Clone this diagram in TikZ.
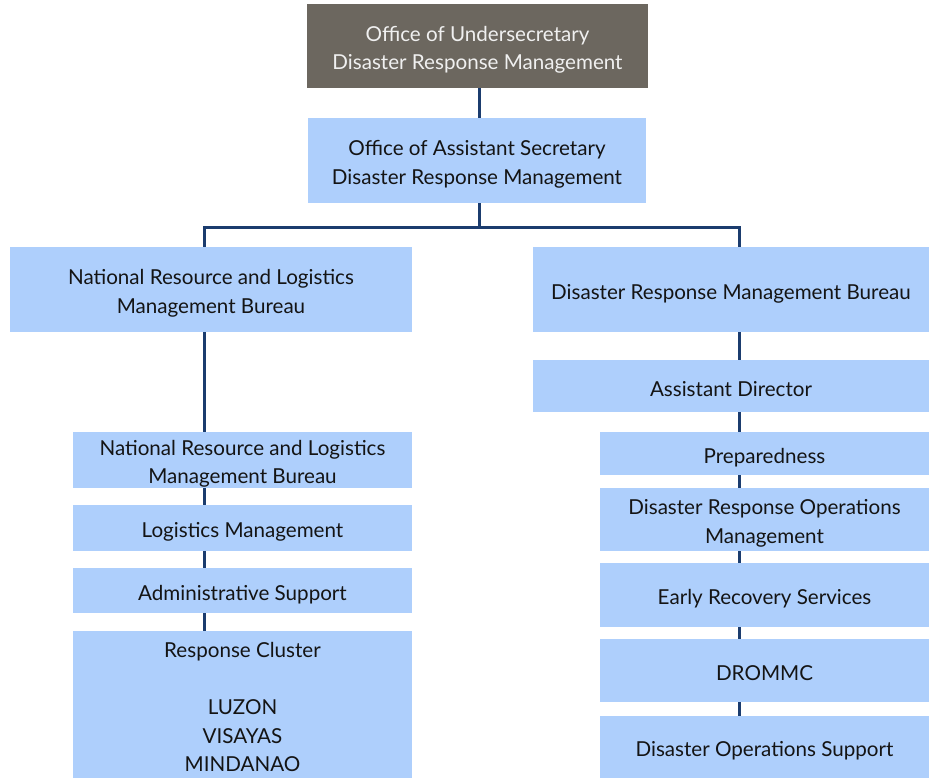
\documentclass[tikz,border=0pt]{standalone}
\usepackage{fontspec}
\setmainfont{Lato}
\usetikzlibrary{backgrounds}
\definecolor{boxblue}{HTML}{AECFFC}
\definecolor{headgray}{HTML}{6C675F}
\definecolor{linknavy}{HTML}{1B3C6E}
\definecolor{inktext}{HTML}{141414}
% fixed struts so every label sits at the same height in its box
\newcommand\hiStrut{\rule{0pt}{23pt}}
\newcommand\loStrut{\rule[-3pt]{0pt}{3pt}}
\begin{document}
\begin{tikzpicture}[x=1pt,y=-1pt,
  unit/.style={rectangle, fill=boxblue, inner sep=0pt, align=center,
    text=inktext, font=\fontsize{20.6}{28.5}\selectfont},
  headunit/.style={unit, fill=headgray, text=white!94!black},
  conn/.style={draw=linknavy, line width=3pt}]
\useasboundingbox (0,0) rectangle (929,778);

% top of the hierarchy
\node[headunit, minimum width=341pt, minimum height=84pt] (usec) at (477.5,46)
  {\hiStrut Office of Undersecretary\\Disaster Response Management\loStrut};
\node[unit, minimum width=338pt, minimum height=85pt] (asec) at (477,160.5)
  {\hiStrut Office of Assistant Secretary\\Disaster Response Management\loStrut};

% the two bureaus
\node[unit, minimum width=402pt, minimum height=85pt] (nrlmb) at (211,289.5)
  {\hiStrut National Resource and Logistics\\Management Bureau\loStrut};
\node[unit, minimum width=396pt, minimum height=85pt] (drmb) at (731,289.5)
  {\hiStrut Disaster Response Management Bureau\loStrut};
\node[unit, minimum width=396pt, minimum height=52pt] (adir) at (731,386)
  {\hiStrut Assistant Director\loStrut};

% left column
\node[unit, minimum width=339pt, minimum height=56pt] (l1) at (242.5,460)
  {\hiStrut National Resource and Logistics\\Management Bureau\loStrut};
\node[unit, minimum width=339pt, minimum height=46pt] (l2) at (242.5,528)
  {\hiStrut Logistics Management\loStrut};
\node[unit, minimum width=339pt, minimum height=45pt] (l3) at (242.5,590.5)
  {\hiStrut Administrative Support\loStrut};
\node[unit, minimum width=339pt, minimum height=147pt] (l4) at (242.5,704.5)
  {\hiStrut Response Cluster\\[28.5pt]LUZON\\VISAYAS\\MINDANAO\loStrut};

% right column
\node[unit, minimum width=329pt, minimum height=43pt] (r1) at (764.5,453.5)
  {\hiStrut Preparedness\loStrut};
\node[unit, minimum width=329pt, minimum height=63pt] (r2) at (764.5,519.5)
  {\hiStrut Disaster Response Operations\\Management\loStrut};
\node[unit, minimum width=329pt, minimum height=64pt] (r3) at (764.5,595)
  {\hiStrut Early Recovery Services\loStrut};
\node[unit, minimum width=329pt, minimum height=63pt] (r4) at (764.5,670.5)
  {\hiStrut DROMMC\loStrut};
\node[unit, minimum width=329pt, minimum height=62pt] (r5) at (764.5,747)
  {\hiStrut Disaster Operations Support\loStrut};

% connector guides
\coordinate (lx) at (204,0);
\coordinate (rx) at (739,0);
\coordinate (busy) at (0,228);

\begin{pgfonlayer}{background}
  \draw[conn] (usec.south -| 479,0) -- (asec.north -| 479,0);
  \draw[conn] (asec.south -| 479,0) -- (busy -| 479,0);
  \draw[conn] (nrlmb.north -| lx) |- (busy -| rx) -- (drmb.north -| rx);
  \draw[conn] (nrlmb.south -| lx) -- (l4.north -| lx);
  \draw[conn] (drmb.south -| rx) -- (r5.north -| rx);
\end{pgfonlayer}
\end{tikzpicture}
\end{document}
